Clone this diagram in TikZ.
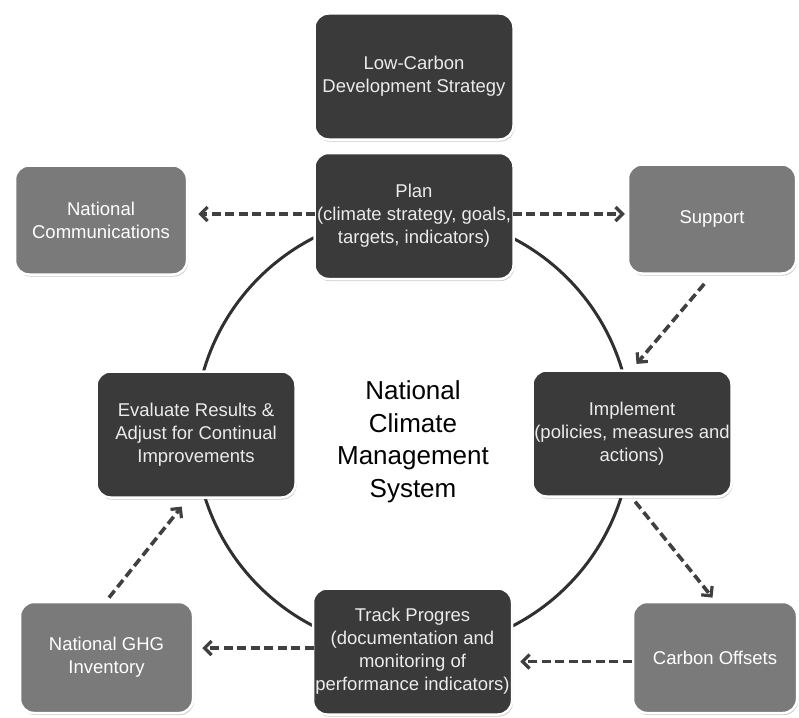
\documentclass[tikz,border=0pt]{standalone}
\usepackage{fontspec}
\setmainfont{Liberation Sans}
\usepackage{xcolor}
\usepackage{tikz}
\usetikzlibrary{arrows.meta,shadows}
\definecolor{boxdark}{RGB}{58,58,58}
\definecolor{boxgray}{RGB}{122,122,122}
\definecolor{linkgray}{RGB}{64,64,64}
\definecolor{cyclegray}{RGB}{48,48,48}
\newcommand{\boxfont}{\fontsize{18.5}{23}\selectfont}
\newcommand{\centerfont}{\fontsize{26}{32.5}\selectfont}
\tikzstyle{node:base}=[rounded corners=14pt,draw=white,line width=2.5pt,align=center,inner sep=0pt,font=\boxfont,
  drop shadow={shadow xshift=1pt,shadow yshift=-2pt,opacity=0.35,fill=black!60}]
\tikzstyle{node:dark}=[node:base,fill=boxdark,text=white!92!black,minimum width=199,minimum height=126]
\tikzstyle{node:gray}=[node:base,fill=boxgray,text=white,minimum width=170,minimum height=109]
\tikzstyle{draw:cycle}=[line width=3pt,cyclegray]
\tikzstyle{draw:link}=[line width=3.6pt,linkgray,dash pattern=on 9pt off 4.5pt,
  -{Straight Barb[length=7pt,width=14pt,line width=3.2pt]}]

\begin{document}
\begin{tikzpicture}[x=1pt,y=-1pt]
        \useasboundingbox (0,0) rectangle (799,717);

        % Management cycle
        \draw[draw:cycle] (413,432) circle[radius=218pt];

        % Cycle steps
        \node[node:dark] (lowcarbon) at (414,76.5) {Low-Carbon\\Development Strategy};
        \node[node:dark] (plan) at (414,216) {Plan\\(climate strategy, goals,\\targets, indicators)};
        \node[node:dark] (implement) at (632,433.5) {Implement\\(policies, measures and\\actions)};
        \node[node:dark] (track) at (412.5,651.5) {Track Progres\\(documentation and\\monitoring of\\performance indicators)};
        \node[node:dark] (evaluate) at (196,434.5) {Evaluate Results \&\\Adjust for Continual\\Improvements};

        % Outside elements
        \node[node:gray,minimum width=172] (natcom) at (101,220) {National\\Communications};
        \node[node:gray,minimum width=168] (support) at (712,219) {Support};
        \node[node:gray,minimum width=164,minimum height=111] (offsets) at (715,657.5) {Carbon Offsets};
        \node[node:gray,minimum width=173,minimum height=111] (inventory) at (106.5,657.5) {National GHG\\Inventory};

        % Centre label
        \node[font=\centerfont,align=center,text=black] (system) at (413,442) {National\\Climate\\Management\\System};

        % Dashed links
        \draw[draw:link,shorten <=-2pt,shorten >=10pt] ([yshift=2pt]plan.west) -- ([yshift=2pt]plan.west -| natcom.east);
        \draw[draw:link,shorten <=-2pt,shorten >=2pt] ([yshift=2pt]plan.east) -- ([yshift=2pt]plan.east -| support.west);
        \draw[draw:link,shorten <=12pt,shorten >=7pt] (support.south) -- (implement.north);
        \draw[draw:link,shorten <=5pt,shorten >=4pt] (implement.south) -- (offsets.north);
        \draw[draw:link,shorten <=0pt,shorten >=7pt] ([yshift=-4pt]offsets.west) -- ([yshift=-4pt]offsets.west -| track.east);
        \draw[draw:link,shorten <=-2pt,shorten >=8pt] ([yshift=3.5pt]track.west) -- ([yshift=3.5pt]track.west -| inventory.east);
        \draw[draw:link,shorten <=4pt,shorten >=10pt] (inventory.north) -- ([xshift=-8pt]evaluate.south);

    \end{tikzpicture}
\end{document}
